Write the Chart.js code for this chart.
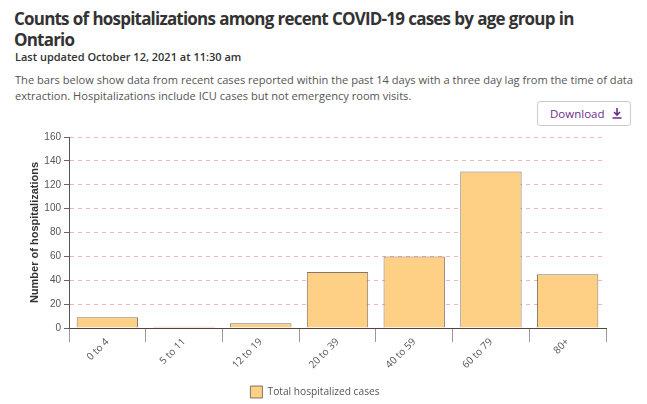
<!DOCTYPE html>
<html>
<head>
<meta charset="utf-8">
<script src="https://cdn.jsdelivr.net/npm/chart.js@4.4.0/dist/chart.umd.min.js"></script>
<style>
  body { margin: 0; background: #fff; font-family: "Open Sans", sans-serif; width: 647px; height: 404px; overflow: hidden; position: relative; }
  h1 { position: absolute; left: 14px; top: 8px; margin: 0; width: 600px; font-size: 17px; line-height: 21px; font-weight: 700; color: #333; letter-spacing: -0.8px; word-spacing: 0.5px; }
  .updated { position: absolute; left: 15px; top: 49px; font-size: 11px; font-weight: 600; color: #333; }
  .desc { position: absolute; left: 15px; top: 72px; width: 625px; font-size: 11.1px; line-height: 16px; color: #555; }
  .dl { position: absolute; left: 537px; top: 101px; width: 94px; height: 25px; border: 1px solid #ccc; border-radius: 3px; box-sizing: border-box; color: #6b2d8c; font-size: 11.5px; line-height: 23px; padding-left: 12px; }
  .dl svg { position: absolute; left: 74px; top: 6px; }
  #wrap { position: absolute; left: 0; top: 128px; width: 647px; height: 280px; }
</style>
</head>
<body>
<h1>Counts of hospitalizations among recent COVID-19 cases by age group in Ontario</h1>
<div class="updated">Last updated October 12, 2021 at 11:30 am</div>
<div class="desc">The bars below show data from recent cases reported within the past 14 days with a three day lag from the time of data extraction. Hospitalizations include ICU cases but not emergency room visits.</div>
<div class="dl">Download
  <svg width="10" height="11" viewBox="0 0 10 11"><path d="M5 0 V7 M2 4 L5 7 L8 4 M0.5 10 H9.5" stroke="#6b2d8c" stroke-width="1.6" fill="none"/></svg>
</div>
<div id="wrap"><canvas id="chart"></canvas></div>
<script>
var ageGroups = ["0 to 4", "5 to 11", "12 to 19", "20 to 39", "40 to 59", "60 to 79", "80+"];
var hospitalized = [9, 1, 4, 47, 60, 131, 45];
var seriesName = "Total hospitalized cases";
var yMax = 160;
var yStep = 20;

var ctx = document.getElementById("chart").getContext("2d");
var hospChart = new Chart(ctx, {
  type: "bar",
  data: {
    labels: ageGroups,
    datasets: [{
      label: seriesName,
      data: hospitalized,
      backgroundColor: "#fdd085",
      borderColor: "rgba(110,95,80,0.85)",
      borderWidth: 1,
      barPercentage: 1,
      categoryPercentage: 0.8
    }]
  },
  options: {
    responsive: true,
    maintainAspectRatio: false,
    animation: false,
    layout: { padding: { left: 24, right: 41, top: 7, bottom: 0 } },
    plugins: {
      legend: {
        position: "bottom",
        labels: {
          boxWidth: 12,
          boxHeight: 12,
          padding: 10,
          color: "#555",
          font: { family: "Open Sans", size: 10.2 }
        }
      },
      tooltip: { enabled: false }
    },
    scales: {
      x: {
        grid: { offset: true, drawOnChartArea: false, color: "#999", tickLength: 14 },
        border: { color: "#5a4040" },
        ticks: {
          minRotation: 45, maxRotation: 45,
          padding: -6,
          color: "#555",
          font: { family: "Open Sans", size: 10 }
        },
        afterFit: function (scale) { scale.height = 48; }
      },
      y: {
        min: 0, max: yMax,
        ticks: {
          stepSize: yStep,
          color: "#555",
          padding: 3,
          font: { family: "Liberation Sans", size: 10 }
        },
        grid: { color: "rgba(235,120,120,0.55)", tickColor: "#666", tickLength: 5 },
        border: { color: "#555", dash: [4, 4] },
        title: {
          display: true,
          text: "Number of hospitalizations",
          color: "#333",
          padding: { top: 4, bottom: 0 },
          font: { family: "Liberation Sans", size: 11, weight: "bold" }
        },
        afterFit: function (scale) { scale.width = 45; }
      }
    }
  }
});
</script>
</body>
</html>
